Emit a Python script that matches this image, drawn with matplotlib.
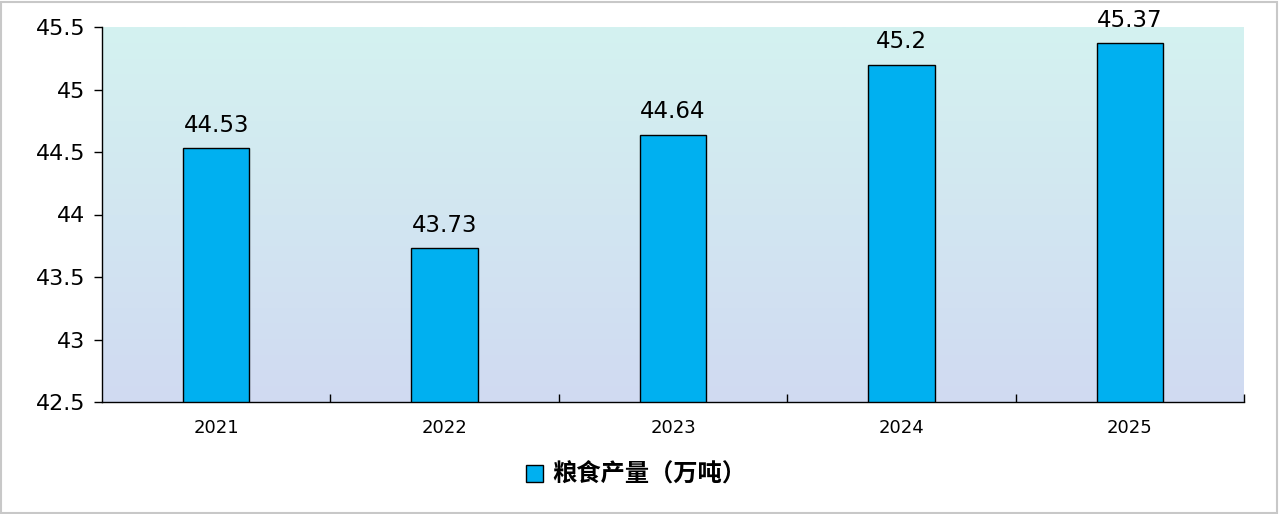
import numpy as np
import matplotlib
matplotlib.use("Agg")
import matplotlib.pyplot as plt
from matplotlib.colors import LinearSegmentedColormap
from matplotlib.patches import Rectangle

plt.rcParams['font.family'] = ['DejaVu Sans', 'Noto Sans CJK SC']

# Data
years = ["2021", "2022", "2023", "2024", "2025"]
values = [44.53, 43.73, 44.64, 45.2, 45.37]
labels = ["44.53", "43.73", "44.64", "45.2", "45.37"]
series_name = "粮食产量（万吨）"
yticks = [42.5, 43, 43.5, 44, 44.5, 45, 45.5]
ytick_labels = ["42.5", "43", "43.5", "44", "44.5", "45", "45.5"]

fig = plt.figure(figsize=(12.8, 5.14), dpi=100)
ax = fig.add_axes([102 / 1280, 1 - 402 / 514, 1142 / 1280, 375 / 514])

x = np.arange(len(years))
ax.set_xlim(-0.5, len(years) - 0.5)
ax.set_ylim(42.5, 45.5)

# gradient background
cmap = LinearSegmentedColormap.from_list("bg", ["#d0daf2", "#d4f2f0"])
grad = np.linspace(0, 1, 256).reshape(-1, 1)
ax.imshow(grad, aspect="auto", cmap=cmap, origin="lower",
          extent=[-0.5, len(years) - 0.5, 42.5, 45.5], zorder=0)

bars = ax.bar(x, values, width=0.29, color="#00b0f0", edgecolor="black",
              linewidth=1, zorder=2, label=series_name)
for xi, v, t in zip(x, values, labels):
    ax.text(xi, v + 0.09, t, ha="center", va="bottom", fontsize=16.5, zorder=3)

ax.spines["top"].set_visible(False)
ax.spines["right"].set_visible(False)
ax.spines["left"].set_linewidth(1)
ax.spines["bottom"].set_linewidth(1)

ax.set_yticks(yticks)
ax.set_yticklabels(ytick_labels, fontsize=16)
ax.tick_params(axis="y", direction="out", length=6, width=1, pad=6)

ax.set_xticks(x)
ax.set_xticklabels(years, fontsize=13)
ax.tick_params(axis="x", which="major", length=0, pad=12)
ax.set_xticks(np.arange(0.5, len(years) + 0.5, 1), minor=True)
ax.tick_params(axis="x", which="minor", direction="in", length=6, width=1)

leg = fig.legend(handles=[bars], labels=[series_name], loc="center",
                 bbox_to_anchor=(0.497, 1 - 475 / 514), frameon=False,
                 prop={"family": ["Noto Sans CJK SC"], "size": 17.5, "weight": "bold"},
                 handlelength=0.7, handleheight=0.7, handletextpad=0.35)

# figure border
fig.patches.append(Rectangle((0.001, 0.002), 0.997, 0.995, transform=fig.transFigure,
                             fill=False, edgecolor="#c8c8c8", linewidth=1.5))

fig.savefig("out.png", dpi=100)
